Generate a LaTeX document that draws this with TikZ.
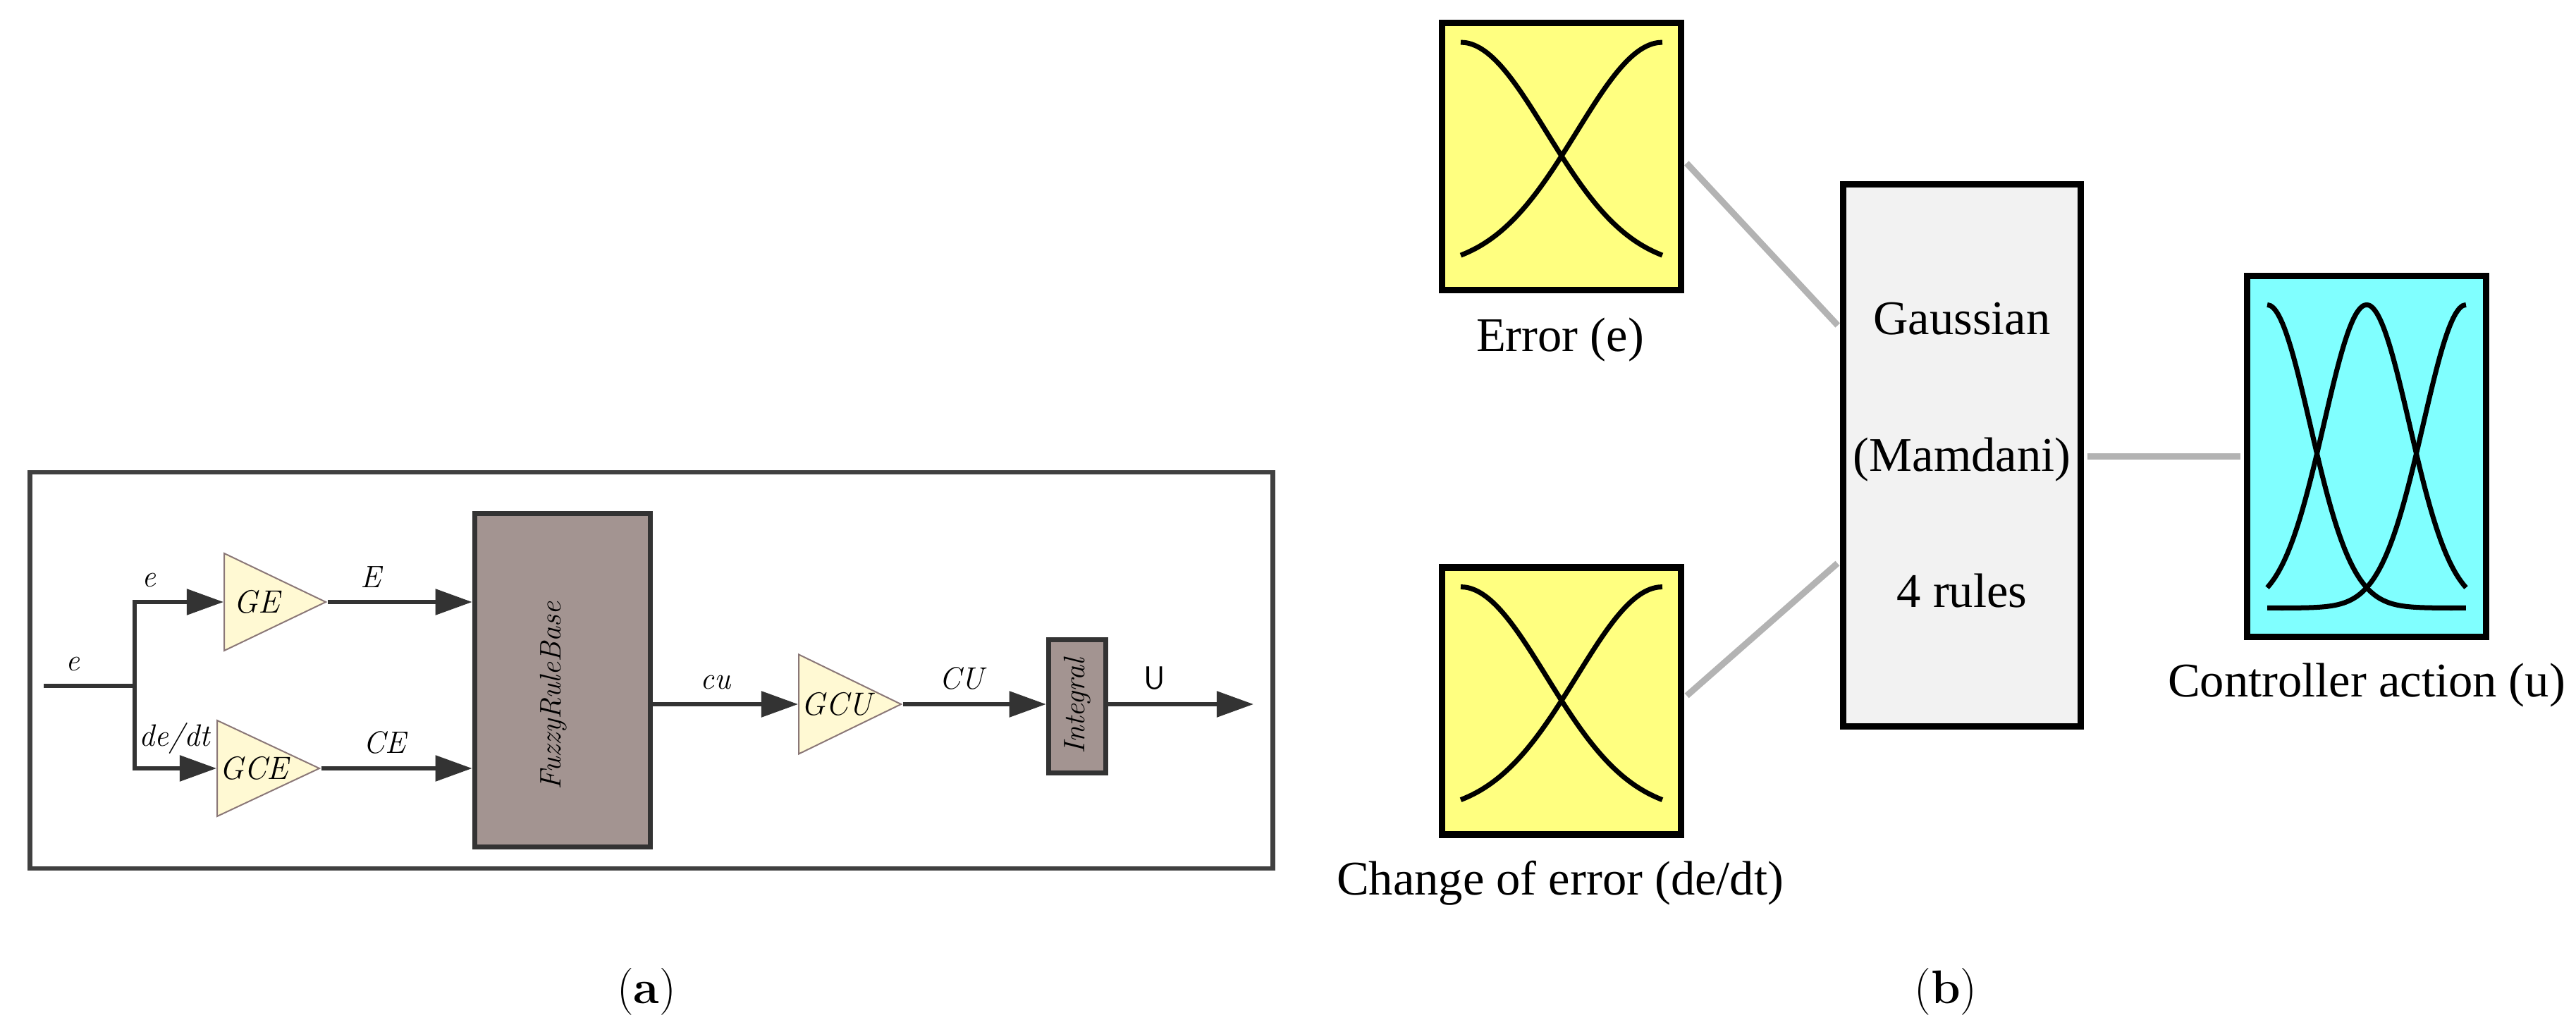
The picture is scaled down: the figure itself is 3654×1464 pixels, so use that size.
\documentclass[tikz,border=0pt]{standalone}
\usepackage{fontspec}
\usepackage{graphicx}
\usepackage{tikz}
\usetikzlibrary{shapes.geometric, arrows.meta, positioning, calc}

\newfontfamily\timesfont{Liberation Serif}

\definecolor{framecol}{HTML}{404040}
\definecolor{wirecol}{HTML}{333333}
\definecolor{gainfill}{HTML}{FFF9D3}
\definecolor{gainedge}{HTML}{8A7777}
\definecolor{blockfill}{HTML}{A39491}
\definecolor{mfyellow}{HTML}{FFFF80}
\definecolor{mfcyan}{HTML}{80FFFF}
\definecolor{rulefill}{HTML}{F2F2F2}
\definecolor{linkgrey}{HTML}{B3B3B3}

\begin{document}
\begin{tikzpicture}[
        x=0.01cm, y=-0.01cm,
        frame/.style={
            rectangle,
            draw=framecol,
            line width=0.065cm,
            minimum width=17.62cm,
            minimum height=5.62cm
        },
        wire/.style={draw=wirecol, line width=0.055cm},
        arrow/.style={wire, -{Triangle[length=0.52cm, width=0.36cm]}},
        gain/.style={
            isosceles triangle,
            isosceles triangle stretches,
            draw=gainedge,
            fill=gainfill,
            line width=0.02cm,
            inner sep=0pt,
            anchor=lower side,
            font=\itshape\fontsize{13}{15}\selectfont
        },
        block/.style={
            rectangle,
            draw=wirecol,
            fill=blockfill,
            line width=0.075cm,
            inner sep=0pt,
            font=\itshape\fontsize{12}{14}\selectfont
        },
        lbl/.style={inner sep=0pt, above=0.18cm, font=\itshape\fontsize{12.5}{14}\selectfont},
        mfbox/.style={
            rectangle,
            draw=black,
            line width=0.095cm,
            minimum width=3.385cm,
            minimum height=3.785cm
        },
        mfcurve/.style={black, line width=0.07cm},
        link/.style={draw=linkgrey, line width=0.09cm, shorten <=0.047cm, shorten >=0.047cm},
        txt/.style={inner sep=0pt, font=\timesfont\fontsize{19.5}{23}\selectfont},
        caption/.style={inner sep=0pt, font=\fontsize{19}{23}\selectfont}
    ]
        \useasboundingbox (0,0) rectangle (3654,1464);

        % (a) fuzzy PI controller
        \node [frame] (boxa) at (924,951) {};
        \coordinate (in) at (62,973);
        \coordinate (split) at (191,973);
        \coordinate (out) at (1778,999);

        \node [gain, minimum width=1.38cm, minimum height=1.44cm] (ge) at (317,854) {GE};
        \node [gain, minimum width=1.36cm, minimum height=1.45cm] (gce) at (307,1090) {GCE};
        \node [block, minimum width=2.49cm, minimum height=4.73cm] (frb) at (798,965)
              {\rotatebox{90}{\rule[-0.34cm]{0pt}{0pt}FuzzyRuleBase\hspace{0.44cm}}};
        \node [gain, minimum width=1.41cm, minimum height=1.45cm] (gcu) at (1132,999) {GCU};
        \node [block, minimum width=0.81cm, minimum height=1.89cm] (integ) at (1528,1002) {\rotatebox{90}{Integral}};

        \draw [wire] (in) -- node[lbl, pos=0.32] {e} (split);
        \draw [arrow] (split) |- node[lbl, pos=0.58] {e} (ge.lower side);
        \draw [arrow] (split) |- node[lbl, pos=0.745] {de/dt} (gce.lower side);
        \draw [arrow] (ge.apex) -- node[lbl, pos=0.3] {E} (ge.apex -| frb.west);
        \draw [arrow] (gce.apex) -- node[lbl, pos=0.42] {CE} (gce.apex -| frb.west);
        \draw [arrow] (frb.east |- gcu.lower side) -- node[lbl, pos=0.43] {cu} (gcu.lower side);
        \draw [arrow] (gcu.apex) -- node[lbl, pos=0.41] {CU} (gcu.apex -| integ.west);
        \draw [arrow] (integ.east |- out) -- node[lbl, pos=0.32, font=\sffamily\fontsize{13}{15}\selectfont] {U} (out);

        \node [caption] (capa) at (917,1407) {(\textbf{a})};

        % (b) fuzzy inference system
        \node [mfbox, fill=mfyellow] (errmf) at (2215,222) {};
        \node [mfbox, fill=mfyellow] (cemf) at (2215,994.5) {};
        \node [mfbox, fill=rulefill, minimum width=3.365cm, minimum height=7.685cm,
               align=center, font=\timesfont\fontsize{19.5}{55}\selectfont] (rules) at (2783,646)
               {Gaussian\\(Mamdani)\\4 rules};
        \node [mfbox, fill=mfcyan, minimum height=5.115cm] (outmf) at (3357,647.5) {};

        \node [txt] (errlbl) at (2213,482) {Error (e)};
        \node [txt] (celbl) at (2213,1253) {Change of error (de/dt)};
        \node [txt] (outlbl) at (3357,972) {Controller action (u)};

        \foreach \mf in {errmf, cemf} {
            \begin{scope}[shift={(\mf.center)}]
                \draw [mfcurve] plot[domain=0:1, samples=41, smooth] ({-143+286*\x}, {140-322*(exp(-\x*\x/0.36)-0.0625)});
                \draw [mfcurve] plot[domain=0:1, samples=41, smooth] ({-143+286*\x}, {140-322*(exp(-(1-\x)*(1-\x)/0.36)-0.0625)});
            \end{scope}
        }
        \begin{scope}[shift={(outmf.center)}]
            \draw [mfcurve] plot[domain=0:1, samples=61, smooth] ({-141+282*\x}, {215-430*exp(-\x*\x/0.0926)});
            \draw [mfcurve] plot[domain=0:1, samples=61, smooth] ({-141+282*\x}, {215-430*exp(-(\x-0.5)*(\x-0.5)/0.0926)});
            \draw [mfcurve] plot[domain=0:1, samples=61, smooth] ({-141+282*\x}, {215-430*exp(-(1-\x)*(1-\x)/0.0926)});
        \end{scope}

        \path [link] ($(errmf.east)+(0,6)$) -- ($(rules.west)+(0,-181)$);
        \path [link] ($(cemf.east)+(0,-4.5)$) -- ($(rules.west)+(0,150)$);
        \path [link] (rules.east |- outmf.west) -- (outmf.west);

        \node [caption] (capb) at (2760,1407) {(\textbf{b})};
    \end{tikzpicture}
\end{document}
